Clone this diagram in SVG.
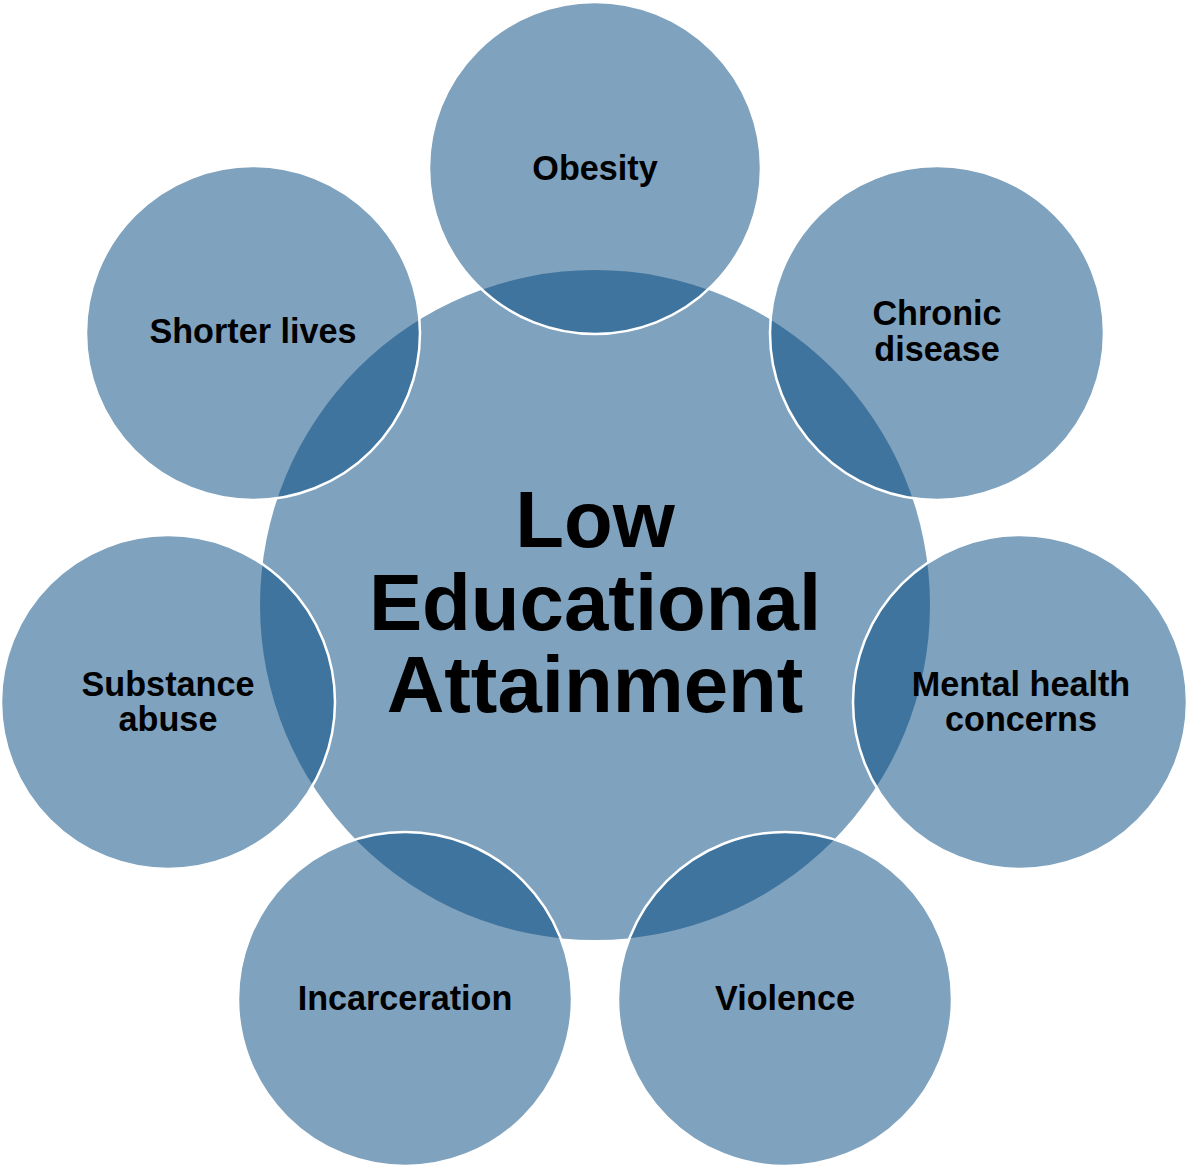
<svg xmlns="http://www.w3.org/2000/svg" width="1186" height="1167" viewBox="0 0 1186 1167">
<style>
.center{fill:#7fa2bf}
.outer{fill:rgb(0,69,125);fill-opacity:.5;stroke:#ffffff;stroke-width:2.5}
.lbl{font-family:"Liberation Sans",Arial,sans-serif;font-weight:bold;font-size:34.2px;fill:#000;text-anchor:middle}
.big{font-family:"Liberation Sans",Arial,sans-serif;font-weight:bold;font-size:79.8px;fill:#000;text-anchor:middle}
</style>
<rect width="1186" height="1167" fill="#ffffff"/>
<g id="center-node">
<circle class="center" cx="595" cy="605" r="335"/>
<text class="big" x="595" y="547">Low</text>
<text class="big" x="595" y="630">Educational</text>
<text class="big" x="595" y="712">Attainment</text>
</g>
<g id="obesity">
<circle class="outer" cx="595" cy="168" r="166"/>
<text class="lbl" x="595" y="180">Obesity</text>
</g>
<g id="chronic-disease">
<circle class="outer" cx="937" cy="333" r="167"/>
<text class="lbl" x="937" y="325">Chronic</text>
<text class="lbl" x="937" y="361">disease</text>
</g>
<g id="mental-health">
<circle class="outer" cx="1020" cy="702" r="167"/>
<text class="lbl" x="1021" y="696">Mental health</text>
<text class="lbl" x="1021" y="731">concerns</text>
</g>
<g id="violence">
<circle class="outer" cx="785" cy="999" r="167"/>
<text class="lbl" x="785" y="1010">Violence</text>
</g>
<g id="incarceration">
<circle class="outer" cx="405" cy="999" r="167"/>
<text class="lbl" x="405" y="1010">Incarceration</text>
</g>
<g id="substance-abuse">
<circle class="outer" cx="168" cy="702" r="167"/>
<text class="lbl" x="168" y="696">Substance</text>
<text class="lbl" x="168" y="731">abuse</text>
</g>
<g id="shorter-lives">
<circle class="outer" cx="253" cy="333" r="167"/>
<text class="lbl" x="253" y="343">Shorter lives</text>
</g>
<g id="connectors"></g>
</svg>
